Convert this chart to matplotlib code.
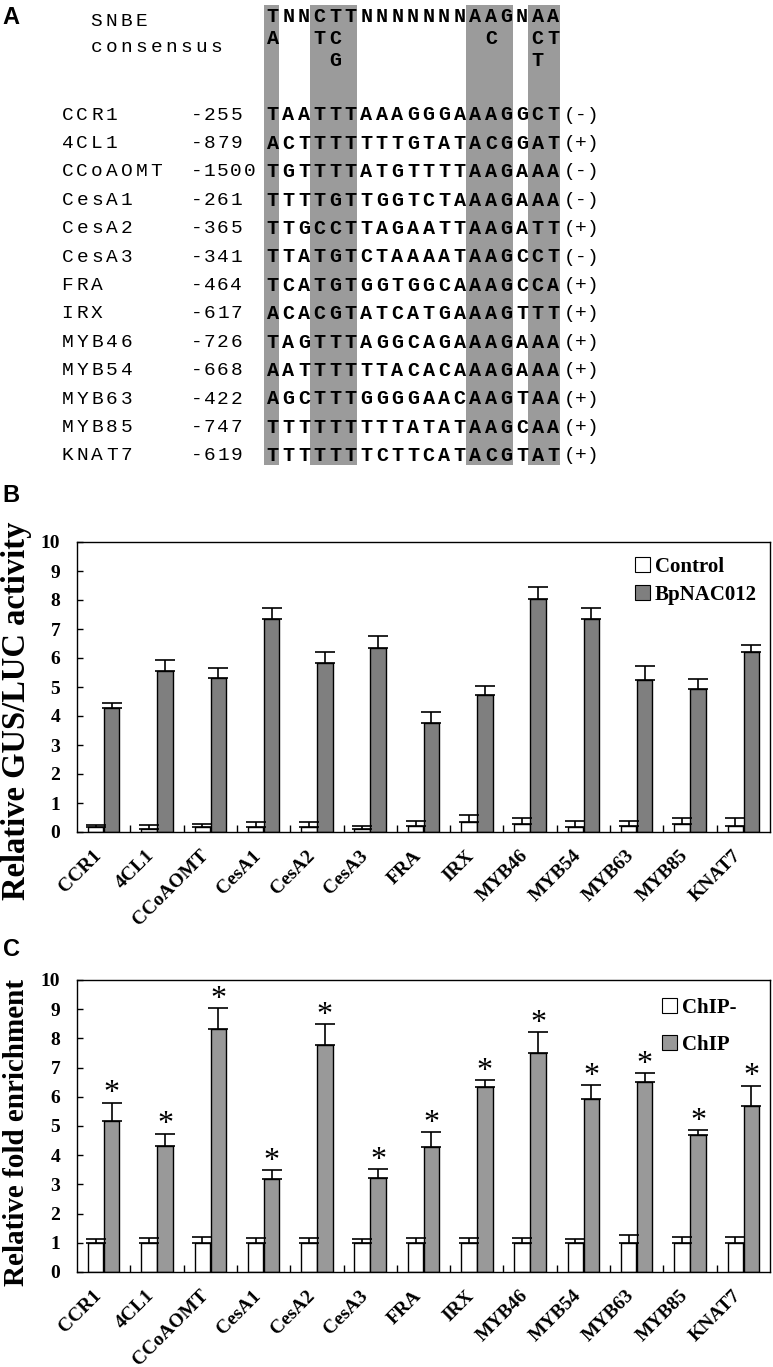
import matplotlib
matplotlib.use("Agg")
import matplotlib.pyplot as plt
from matplotlib.patches import Rectangle, Patch
from matplotlib.transforms import ScaledTranslation
import numpy as np

# ---------------- data ----------------
genes = ["CCR1", "4CL1", "CCoAOMT", "CesA1", "CesA2", "CesA3", "FRA", "IRX",
         "MYB46", "MYB54", "MYB63", "MYB85", "KNAT7"]
positions = ["-255", "-879", "-1500", "-261", "-365", "-341", "-464", "-617",
             "-726", "-668", "-422", "-747", "-619"]
sequences = ["TAATTTAAAGGGAAAGGCT", "ACTTTTTTTGTATACGGAT", "TGTTTTATGTTTTAAGAAA",
             "TTTTGTTGGTCTAAAGAAA", "TTGCCTTAGAATTAAGATT", "TTATGTCTAAAATAAGCCT",
             "TCATGTGGTGGCAAAGCCA", "ACACGTATCATGAAAGTTT", "TAGTTTAGGCAGAAAGAAA",
             "AATTTTTTACACAAAGAAA", "AGCTTTGGGGAACAAGTAA", "TTTTTTTTTATATAAGCAA",
             "TTTTTTTCTTCATACGTAT"]
strands = ["(-)", "(+)", "(-)", "(-)", "(+)", "(-)", "(+)", "(+)", "(+)", "(+)",
           "(+)", "(+)", "(+)"]
consensus_row1 = "TNNCTTNNNNNNNAAGNAA"
consensus_row2 = "A  TC         C  CT"
consensus_row3 = "    G            T "
band_columns = [(0, 0), (3, 5), (13, 15), (17, 18)]

# Panel B: relative GUS/LUC activity
control_b = [0.17, 0.12, 0.17, 0.17, 0.17, 0.12, 0.22, 0.35, 0.28, 0.17, 0.22, 0.28, 0.22]
control_b_err = [0.08, 0.13, 0.11, 0.18, 0.18, 0.10, 0.17, 0.25, 0.22, 0.22, 0.17, 0.22, 0.28]
bpnac_b = [4.28, 5.56, 5.30, 7.36, 5.83, 6.36, 3.77, 4.72, 8.04, 7.36, 5.24, 4.93, 6.20]
bpnac_b_err = [0.16, 0.37, 0.37, 0.38, 0.36, 0.41, 0.38, 0.31, 0.42, 0.37, 0.49, 0.36, 0.26]

# Panel C: relative fold enrichment
chip_neg = [1.0] * 13
chip_neg_err = [0.12, 0.17, 0.21, 0.17, 0.17, 0.13, 0.17, 0.17, 0.17, 0.13, 0.28, 0.21, 0.21]
chip = [5.18, 4.32, 8.33, 3.18, 7.76, 3.22, 4.29, 6.34, 7.50, 5.92, 6.50, 4.69, 5.70]
chip_err = [0.62, 0.42, 0.70, 0.31, 0.72, 0.30, 0.50, 0.23, 0.72, 0.47, 0.31, 0.16, 0.68]

# ---------------- figure ----------------
W, H = 773, 1367
fig = plt.figure(figsize=(W / 100, H / 100), dpi=100)

SERIF = ["Liberation Serif", "DejaVu Serif"]
SANS = ["Liberation Sans", "DejaVu Sans"]
MONO = ["Liberation Mono", "DejaVu Sans Mono"]

def fx(px):
    return px / W

def fy(py):
    return 1 - py / H

# ---------------- Panel A ----------------
ax0 = fig.add_axes([0, 0, 1, 1], zorder=0)
ax0.set_xlim(0, W)
ax0.set_ylim(H, 0)
ax0.axis("off")
ax0.patch.set_visible(False)

seq_x0 = 265.0
pitch = 15.58

for a, b in band_columns:
    x0 = seq_x0 + pitch * a - 1.5
    x1 = seq_x0 + pitch * (b + 1) - 1.5
    ax0.add_patch(Rectangle((x0, 5), x1 - x0, 460, facecolor="#9b9b9b",
                            edgecolor="none", zorder=0))

def put_chars(s, x_start, y, p, bold=False, size=14.5):
    for k, ch in enumerate(s):
        if ch == " ":
            continue
        ax0.text(x_start + p * (k + 0.5), y, ch, ha="center", va="center",
                 family=MONO, fontsize=size,
                 fontweight="bold" if bold else "normal", zorder=2)

put_chars("SNBE", 89, 21, 15.0, size=14)
put_chars("consensus", 89, 48, 15.0, size=14)
put_chars(consensus_row1, seq_x0, 17, pitch, bold=True)
put_chars(consensus_row2, seq_x0, 39, pitch, bold=True)
put_chars(consensus_row3, seq_x0, 61, pitch, bold=True)

for i, (g, p_, s, st) in enumerate(zip(genes, positions, sequences, strands)):
    y = 115 + 28.4 * i
    put_chars(g, 60, y, 14.8, size=14)
    put_chars(p_, 190, y, 13.2, size=14)
    put_chars(s, seq_x0, y, pitch, bold=True)
    put_chars(st, 564, y, 11.5, size=14)

for lab, y in [("A", 17), ("B", 496), ("C", 949)]:
    fig.text(fx(11), fy(y), lab, ha="center", va="center", family=SANS,
             fontweight="bold", fontsize=17)

# ---------------- bar panels ----------------
def bar_panel(top, bottom, v1, e1, v2, e2, color2, labels, leg_x, leg_dy,
              leg_sp, ylabel, ylab_y, ylab_size, stars=False):
    ax = fig.add_axes([fx(77), fy(bottom), fx(770) - fx(77), (bottom - top) / H],
                      zorder=1)
    x = np.arange(len(genes))
    w = 0.29
    ax.bar(x - 0.15, v1, width=w, facecolor="white", edgecolor="black", lw=1.0,
           zorder=2)
    ax.bar(x + 0.15, v2, width=w, facecolor=color2, edgecolor="black", lw=1.0,
           zorder=2)
    ax.errorbar(x - 0.15, v1, yerr=[np.zeros(len(v1)), e1], fmt="none",
                ecolor="black", elinewidth=1.2, capsize=7.5, capthick=1.2, zorder=3)
    ax.errorbar(x + 0.15, v2, yerr=[np.zeros(len(v2)), e2], fmt="none",
                ecolor="black", elinewidth=1.2, capsize=7.5, capthick=1.2, zorder=3)
    if stars:
        for xi, v, e in zip(x, v2, e2):
            ax.annotate("*", xy=(xi + 0.15, v + e), xytext=(0, -4),
                        textcoords="offset points", ha="center", va="bottom",
                        family=SERIF, fontsize=23, zorder=4)
    ax.set_xlim(-0.5, len(genes) - 0.5)
    ax.set_ylim(0, 10)
    ax.set_yticks(range(11))
    ax.set_yticklabels([str(i) for i in range(11)], family=SERIF,
                       fontweight="bold", fontsize=14)
    ax.tick_params(axis="y", direction="in", length=4, width=1, pad=12)
    ax.set_xticks(x)
    ax.set_xticklabels(genes, rotation=45, ha="right", rotation_mode="anchor",
                       family=SERIF, fontweight="bold", fontsize=14)
    ax.tick_params(axis="x", which="major", length=0, pad=11)
    shift = ScaledTranslation(-0.11, 0, fig.dpi_scale_trans)
    for lab in ax.get_xticklabels():
        lab.set_transform(lab.get_transform() + shift)
    ax.set_xticks(np.arange(0.5, len(genes) - 0.5, 1.0), minor=True)
    ax.tick_params(axis="x", which="minor", direction="in", length=5, width=1)
    for sp in ax.spines.values():
        sp.set_linewidth(1.0)
        sp.set_color("black")
    handles = [Patch(facecolor="white", edgecolor="black", lw=0.8),
               Patch(facecolor=color2, edgecolor="black", lw=0.8)]
    ax.legend(handles, labels, loc="upper left",
              bbox_to_anchor=(fx(leg_x), fy(top + leg_dy)),
              bbox_transform=fig.transFigure, frameon=False,
              prop={"family": SERIF, "weight": "bold", "size": 15},
              handlelength=0.7, handleheight=0.7, handletextpad=0.25,
              labelspacing=leg_sp, borderpad=0, borderaxespad=0)
    fig.text(fx(17), fy(ylab_y), ylabel, rotation=90, ha="center", va="center",
             family=SERIF, fontweight="bold", fontsize=ylab_size)
    return ax

bar_panel(542, 832, control_b, control_b_err, bpnac_b, bpnac_b_err, "#7f7f7f",
          ["Control", "BpNAC012"], 635, 15, 0.37,
          "Relative GUS/LUC activity", 711, 23.5)
bar_panel(980, 1272, chip_neg, chip_neg_err, chip, chip_err, "#999999",
          ["ChIP-", "ChIP"], 662, 18, 0.8,
          "Relative fold enrichment", 1133, 21, stars=True)

fig.savefig("out.png", dpi=100, facecolor="white")
